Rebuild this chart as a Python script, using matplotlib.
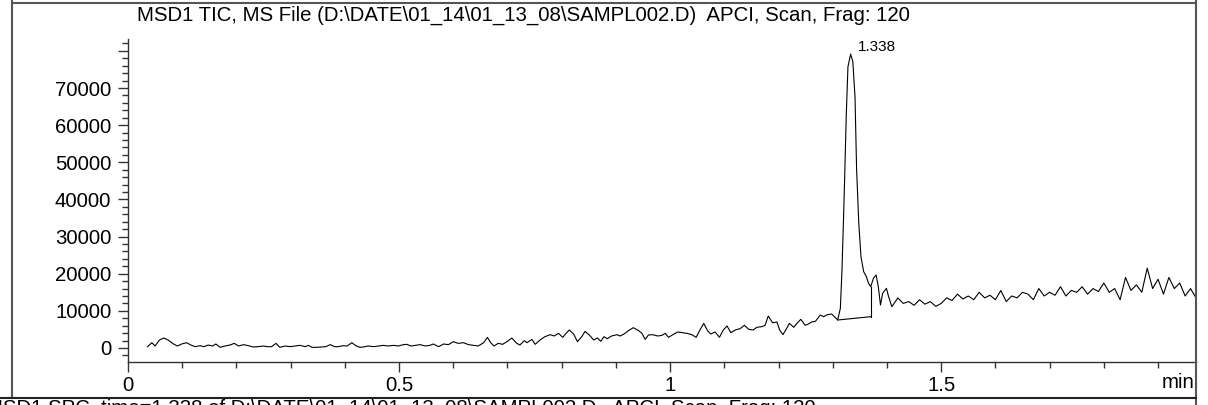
import matplotlib
matplotlib.use('Agg')
import matplotlib.pyplot as plt
from matplotlib.lines import Line2D
from matplotlib.ticker import MultipleLocator, FixedLocator

plt.rcParams['font.family'] = ['Liberation Sans', 'DejaVu Sans']

# TIC trace (time in min, abundance)
time_min = [
    0.036, 0.044, 0.050, 0.058, 0.066, 0.074, 0.084, 0.091, 0.099, 0.108,
    0.116, 0.124, 0.133, 0.140, 0.148, 0.156, 0.162, 0.170, 0.179, 0.188,
    0.196, 0.204, 0.213, 0.222, 0.231, 0.240, 0.250, 0.256, 0.265, 0.273,
    0.280, 0.290, 0.299, 0.308, 0.317, 0.327, 0.333, 0.339, 0.348, 0.357,
    0.365, 0.373, 0.381, 0.388, 0.396, 0.404, 0.413, 0.421, 0.428, 0.434,
    0.443, 0.453, 0.462, 0.471, 0.480, 0.490, 0.499, 0.505, 0.514, 0.522,
    0.530, 0.539, 0.548, 0.557, 0.563, 0.573, 0.582, 0.591, 0.600, 0.609,
    0.619, 0.628, 0.637, 0.646,
    0.656, 0.663, 0.669, 0.675, 0.683, 0.691, 0.699, 0.708, 0.717, 0.723,
    0.731, 0.736, 0.745, 0.751, 0.760, 0.769, 0.779, 0.786, 0.794, 0.802,
    0.808, 0.814, 0.822, 0.829, 0.837, 0.843, 0.851, 0.859, 0.866, 0.872,
    0.878, 0.884, 0.892, 0.902, 0.908, 0.915, 0.923, 0.932, 0.942, 0.948,
    0.954, 0.960, 0.968, 0.977, 0.985, 0.991, 0.997, 1.005, 1.014, 1.022,
    1.031, 1.040, 1.048, 1.055, 1.062, 1.069, 1.075, 1.083, 1.091, 1.098,
    1.105, 1.112, 1.120, 1.129, 1.137, 1.145, 1.153, 1.160, 1.169, 1.175,
    1.181, 1.189, 1.197, 1.202, 1.208, 1.214, 1.220, 1.228, 1.234, 1.241,
    1.249, 1.255, 1.261, 1.268, 1.277, 1.283, 1.290, 1.298, 1.304,
    1.309, 1.314, 1.317, 1.321, 1.325, 1.328, 1.333, 1.337,
    1.341, 1.344, 1.348, 1.352, 1.357, 1.362, 1.366, 1.370, 1.375, 1.380,
    1.384, 1.388, 1.392, 1.399, 1.403, 1.409,
    1.42, 1.43, 1.44, 1.45, 1.46, 1.47, 1.48, 1.49, 1.50, 1.51,
    1.52, 1.53, 1.54, 1.55, 1.56, 1.57, 1.58, 1.59, 1.60, 1.61,
    1.62, 1.63, 1.64, 1.65, 1.66, 1.67, 1.68, 1.69, 1.70, 1.71,
    1.72, 1.73, 1.74, 1.75, 1.76, 1.77, 1.78, 1.79, 1.80, 1.81,
    1.82, 1.83, 1.84, 1.85, 1.86, 1.87, 1.88, 1.89, 1.90, 1.91,
    1.92, 1.93, 1.94, 1.95, 1.96, 1.97,
]
abundance = [
    350, 1430, 540, 2150, 2690, 2150, 1080, 540, 1080, 1430,
    800, 360, 620, 360, 800, 540, 1080, 180, 540, 800,
    1250, 540, 900, 620, 270, 360, 540, 360, 360, 1250,
    180, 540, 360, 540, 710, 360, 710, 180, 180, 270,
    360, 900, 360, 360, 620, 540, 1430, 540, 180, 270,
    540, 360, 540, 710, 540, 710, 540, 800, 1000, 540,
    710, 900, 540, 710, 1080, 360, 1080, 900, 1700, 1250,
    1430, 900, 710, 540,
    1430, 2870, 1430, 540, 1260, 990, 1700, 2690, 1260, 810,
    1970, 1430, 2330, 990, 2150, 3050, 3590, 3230, 3950, 2870,
    3950, 4850, 3770, 1700, 3050, 4460, 3500, 2150, 2690, 1800,
    3050, 2500, 3230, 3590, 3230, 3770, 4660, 5470, 4660, 3950,
    2330, 3500, 3590, 3230, 3410, 3950, 2870, 3590, 4310, 4130,
    3950, 3590, 2870, 4850, 6640, 4660, 3770, 4310, 2870, 4850,
    5920, 4130, 4850, 5200, 6100, 5030, 4850, 5570, 5740, 6100,
    8610, 6800, 7000, 4850, 3590, 5030, 6640, 5570, 6640, 7720,
    6100, 6460, 7000, 7180, 8880, 8430, 8970, 9150, 8300,
    7540, 10680, 21000, 40730, 63180, 75730, 79150, 77080,
    67650, 47920, 33570, 24580, 20540, 19190, 17420, 16500, 18760, 19650,
    16500, 11580, 14720, 16070, 13810, 11120,
    13500, 12000, 12500, 11500, 13000, 11800, 12500, 11200, 12000, 13500,
    12800, 14500, 13200, 14000, 13000, 15000, 13500, 14200, 13000, 15500,
    12500, 14000, 13500, 15000, 14500, 13000, 16000, 14000, 15000, 14200,
    16500, 14000, 15500, 15000, 16500, 14500, 16000, 15200, 17500, 15000,
    16000, 13000, 19000, 15500, 17000, 15000, 21500, 16000, 18500, 14500,
    19000, 16000, 17500, 14000, 16000, 13500,
]

# integration baseline of the peak
base_t = [1.309, 1.370]
base_v = [7540, 8430]
drop_top = 16500
peak_rt = 1.338
peak_label = '1.338'
peak_height = 79150

title = r'MSD1 TIC, MS File (D:\DATE\01_14\01_13_08\SAMPL002.D)  APCI, Scan, Frag: 120'
next_title = r'MSD1 SPC, time=1.338 of D:\DATE\01_14\01_13_08\SAMPL002.D   APCI, Scan, Frag: 120'

W, H = 1208, 405
fig = plt.figure(figsize=(W / 100, H / 100), dpi=100)
ax = fig.add_axes([128 / W, 1 - 362 / H, (1196 - 128) / W, (362 - 39) / H])

ax.plot(time_min, abundance, color='black', lw=0.8)
ax.plot(base_t, base_v, color='black', lw=0.8)
ax.plot([base_t[1], base_t[1]], [base_v[1], drop_top], color='black', lw=0.8)
ax.annotate(peak_label, (peak_rt, peak_height), xytext=(3, 0), textcoords='offset points',
            fontsize=11, ha='left', va='bottom')

ax.set_xlim(0, 1.97)
ax.set_ylim(-3770, 83200)
for s in ['top', 'right']:
    ax.spines[s].set_visible(False)
for s in ['left', 'bottom']:
    ax.spines[s].set_color('#333333')
    ax.spines[s].set_linewidth(1.0)

ax.xaxis.set_major_locator(FixedLocator([0, 0.5, 1, 1.5]))
ax.xaxis.set_minor_locator(MultipleLocator(0.1))
ax.set_xticklabels(['0', '0.5', '1', '1.5'])
ax.yaxis.set_major_locator(FixedLocator([0, 10000, 20000, 30000, 40000, 50000, 60000, 70000, 80000]))
ax.set_yticklabels(['0', '10000', '20000', '30000', '40000', '50000', '60000', '70000', ''])
ax.yaxis.set_minor_locator(MultipleLocator(2000))
ax.tick_params(which='major', length=7, width=1, color='#333333', labelsize=14.7, pad=3)
ax.tick_params(axis='y', which='major', pad=5)
ax.tick_params(which='minor', length=4, width=1, color='#333333')
fig.text(1195 / W, 1 - 383 / H, 'min', ha='right', va='center', fontsize=14.7)

# page frame
fc = '#555555'
fig.add_artist(Line2D([12 / W, 12 / W], [1, 1 - 398 / H], color=fc, lw=1.5))
fig.add_artist(Line2D([12 / W, 1196 / W], [1 - 3 / H, 1 - 3 / H], color=fc, lw=1.5))
fig.add_artist(Line2D([1196 / W, 1196 / W], [1, 0], color=fc, lw=1.5))
fig.add_artist(Line2D([0, 1196 / W], [1 - 398 / H, 1 - 398 / H], color='#222222', lw=1.5))

fig.text(137 / W, 1 - 15 / H, title, fontsize=14.7, ha='left', va='center')
fig.text(-14 / W, 1 - 399 / H, next_title, fontsize=14.7, ha='left', va='top')

fig.savefig('out.png', dpi=100)
